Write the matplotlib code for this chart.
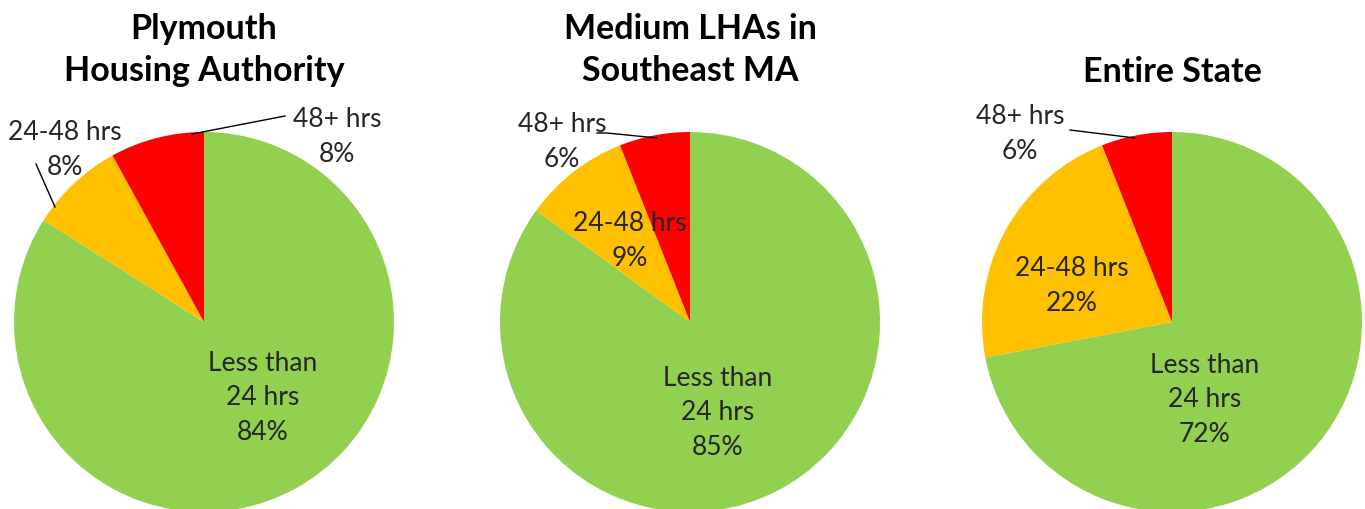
import matplotlib
matplotlib.use("Agg")
import matplotlib.pyplot as plt

plt.rcParams['font.family'] = ['Lato', 'DejaVu Sans']

titles = ["Plymouth\nHousing Authority", "Medium LHAs in\nSoutheast MA", "Entire State"]
categories = ["Less than\n24 hrs", "24-48 hrs", "48+ hrs"]
shares = [
    [84, 8, 8],
    [85, 9, 6],
    [72, 22, 6],
]
colors = ['#92D050', '#FFC000', '#FF0000']

W, H = 1365, 510
fig = plt.figure(figsize=(W / 100, H / 100), dpi=100)

R = 190
centers = [204, 690, 1172]
cy = 323

# label positions in pixel coords for each pie: (green, orange, red)
label_px = [
    [(263, 398), (65, 150), (337, 137)],
    [(718, 413), (630, 241), (562, 142)],
    [(1205, 400), (1072, 286), (1020, 134)],
]
# leader lines (pixel coords), None where no line
leaders = [
    [None, [(55, 208), (36, 165)], [(192, 135), (285, 117)]],
    [None, None, [(657, 139), (607, 134), (597, 134)]],
    [None, None, [(1135, 139), (1070, 131)]],
]
title_y = [50, 50, 72]

txt_color = '#262626'

for i, cx in enumerate(centers):
    ax = fig.add_axes([(cx - R) / W, (H - cy - R) / H, 2 * R / W, 2 * R / H])
    ax.pie(shares[i], colors=colors, startangle=90, counterclock=False,
           radius=1, wedgeprops=dict(linewidth=0))
    ax.set_xlim(-1, 1)
    ax.set_ylim(-1, 1)
    ax.set_aspect('equal')
    ax.axis('off')

    def to_data(p):
        return ((p[0] - cx) / R, (cy - p[1]) / R)

    for j in range(3):
        lx, ly = to_data(label_px[i][j])
        ax.text(lx, ly, f"{categories[j]}\n{shares[i][j]}%", ha='center', va='center',
                fontsize=19, color=txt_color, linespacing=1.48, clip_on=False)
        if leaders[i][j] is not None:
            pts = [to_data(p) for p in leaders[i][j]]
            ax.plot([p[0] for p in pts], [p[1] for p in pts], color='black',
                    linewidth=1, clip_on=False)

    fig.text(cx / W, 1 - title_y[i] / H, titles[i], ha='center', va='center',
             fontsize=24.5, fontweight='bold', color='black', linespacing=1.4)

fig.savefig("out.png", dpi=100)
